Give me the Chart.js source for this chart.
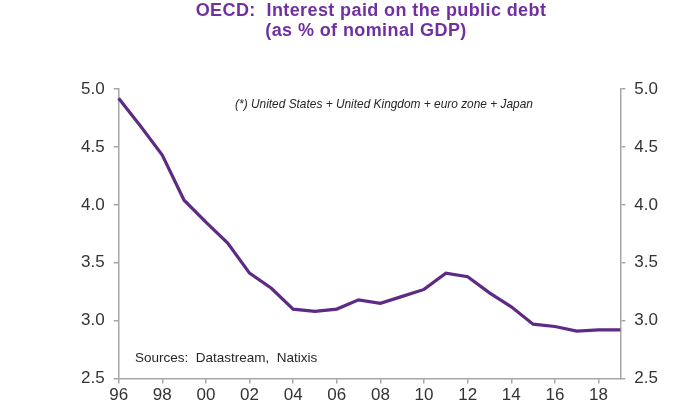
<!DOCTYPE html>
<html>
<head>
<meta charset="utf-8">
<script src="https://cdn.jsdelivr.net/npm/chart.js@4.4.1/dist/chart.umd.min.js"></script>
<style>
html,body{margin:0;padding:0;background:#fff;}
#wrap{position:relative;width:680px;height:418px;}
canvas{display:block;}
</style>
</head>
<body>
<div id="wrap"><canvas id="c" width="680" height="418"></canvas></div>
<script>
const years = ['96','97','98','99','00','01','02','03','04','05','06','07','08','09','10','11','12','13','14','15','16','17','18','19'];
const interestPaid = [4.92,4.68,4.43,4.04,3.85,3.67,3.41,3.28,3.10,3.08,3.10,3.18,3.15,3.21,3.27,3.41,3.38,3.24,3.12,2.97,2.95,2.91,2.92,2.92];
const yTicks = [2.5,3.0,3.5,4.0,4.5,5.0];
const titleLines = ['OECD:  Interest paid on the public debt','(as % of nominal GDP)'];
const noteText = '(*) United States + United Kingdom + euro zone + Japan';
const sourceText = 'Sources:  Datastream,  Natixis';

const axisGrey = '#A6A6A6';
const tickFont = {family:'"Liberation Sans", Arial, sans-serif', size:17};

const textPlugin = {
  id:'texts',
  afterDraw(chart){
    const ctx = chart.ctx;
    ctx.save();
    ctx.fillStyle = '#7030A0';
    ctx.textAlign = 'center';
    ctx.textBaseline = 'middle';
    ctx.font = 'bold 18px "Liberation Sans", Arial, sans-serif';
    if ('letterSpacing' in ctx) ctx.letterSpacing = '0.4px';
    ctx.fillText(titleLines[0], 371, 11);
    ctx.fillText(titleLines[1], 366, 31);
    if ('letterSpacing' in ctx) ctx.letterSpacing = '0px';
    ctx.fillStyle = '#262626';
    ctx.font = 'italic 11.9px "Liberation Sans", Arial, sans-serif';
    ctx.fillText(noteText, 384, 105);
    ctx.textAlign = 'left';
    ctx.font = '13.5px "Liberation Sans", Arial, sans-serif';
    ctx.fillText(sourceText, 135, 358);
    ctx.restore();
  }
};

const yAxisCommon = {
  type:'linear', min:2.5, max:5.0,
  afterBuildTicks(axis){ axis.ticks = yTicks.map(v=>({value:v})); },
  ticks:{ color:'#333', font:tickFont, padding:9, callback:v=>Number(v).toFixed(1) },
  grid:{ drawOnChartArea:false, drawTicks:true, tickLength:5, color:axisGrey, lineWidth:1.5 },
  border:{ display:true, color:axisGrey, width:1.5 }
};

new Chart(document.getElementById('c'), {
  type:'line',
  data:{
    labels: years,
    datasets:[{
      data: interestPaid,
      borderColor:'#5E2A84',
      borderWidth:3.2,
      pointRadius:0,
      tension:0,
      fill:false
    }]
  },
  options:{
    responsive:false,
    animation:false,
    devicePixelRatio:1,
    layout:{ padding:{ left:72, right:13, top:89, bottom:10 } },
    plugins:{ legend:{display:false}, tooltip:{enabled:false}, title:{display:false} },
    scales:{
      x:{
        type:'category', offset:false,
        ticks:{ color:'#333', font:tickFont, autoSkip:false, maxRotation:0, padding:2,
          callback:(v,i)=> i%2===0 ? years[i] : '' },
        grid:{ drawOnChartArea:false, drawTicks:true, tickLength:5, lineWidth:1.5,
          color:(c)=> (c.index%2===0 ? axisGrey : 'rgba(0,0,0,0)') },
        border:{ display:true, color:axisGrey, width:1.5 }
      },
      y: Object.assign({}, yAxisCommon, {position:'left'}),
      y2: Object.assign({}, yAxisCommon, {position:'right', ticks:Object.assign({}, yAxisCommon.ticks)})
    }
  },
  plugins:[textPlugin]
});
</script>
</body>
</html>
